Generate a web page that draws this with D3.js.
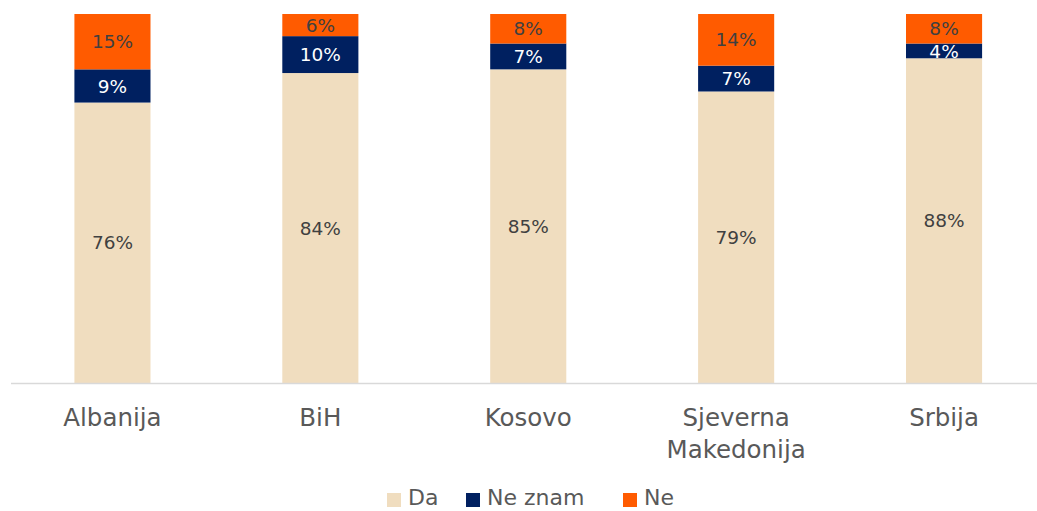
<!DOCTYPE html>
<html>
<head>
<meta charset="utf-8">
<script src="https://cdn.jsdelivr.net/npm/d3@7"></script>
<style>
  body { margin: 0; background: #fff; }
  svg { display: block; font-family: "DejaVu Sans", sans-serif; }
</style>
</head>
<body>
<div id="chart"></div>
<script>
// data
var countries = ["Albanija", "BiH", "Kosovo", "Sjeverna Makedonija", "Srbija"]
var da = [76, 84, 85, 79, 88]
var neZnam = [9, 10, 7, 7, 4]
var ne = [15, 6, 8, 14, 8]
var seriesNames = ["Da", "Ne znam", "Ne"]
var seriesColors = ["#f0ddbf", "#002060", "#ff5b00"]
var labelColors = ["#404040", "#ffffff", "#404040"]

var width = 1037, height = 511

var svg = d3.select("#chart")
  .append("svg")
  .attr("width", width)
  .attr("height", height)

var rows = countries.map((c, i) => ({ country: c, "Da": da[i], "Ne znam": neZnam[i], "Ne": ne[i] }))
var stacked = d3.stack().keys(seriesNames)(rows)

var x = d3.scaleBand()
  .domain(countries)
  .range([8.5, 1048])
  .paddingInner(0.634)
  .paddingOuter(0.317)

var y = d3.scaleLinear()
  .domain([0, 100])
  .range([383, 14])

// bars
var layer = svg.append("g")
  .selectAll("g")
  .data(stacked)
  .enter()
  .append("g")
  .attr("fill", (d, i) => seriesColors[i])

layer.selectAll("rect")
  .data(d => d)
  .enter()
  .append("rect")
  .attr("x", d => x(d.data.country))
  .attr("width", x.bandwidth())
  .attr("y", d => y(d[1]))
  .attr("height", d => y(d[0]) - y(d[1]))

// value labels
stacked.forEach((s, i) => {
  svg.append("g")
    .selectAll("text")
    .data(s)
    .enter()
    .append("text")
    .attr("x", d => x(d.data.country) + x.bandwidth() / 2)
    .attr("y", d => (y(d[0]) + y(d[1])) / 2)
    .attr("dy", "0.36em")
    .attr("text-anchor", "middle")
    .style("font-size", "18.5px")
    .style("fill", labelColors[i])
    .text(d => (d[1] - d[0]) + "%")
})

// x axis line
svg.append("line")
  .attr("x1", 11).attr("x2", 1037)
  .attr("y1", y(0) + 0.5).attr("y2", y(0) + 0.5)
  .attr("stroke", "#d9d9d9")
  .attr("stroke-width", 1.5)

// category labels, wrapping the long one
var catLabels = svg.append("g")
  .selectAll("text")
  .data(countries)
  .enter()
  .append("text")
  .attr("text-anchor", "middle")
  .attr("x", d => x(d) + x.bandwidth() / 2)
  .attr("y", 426)
  .style("font-size", "24.5px")
  .style("fill", "#595959")

catLabels.each(function (d) {
  var words = d.split(" ")
  var t = d3.select(this)
  words.forEach((w, k) => {
    t.append("tspan")
      .attr("x", x(d) + x.bandwidth() / 2)
      .attr("dy", k === 0 ? 0 : 32)
      .text(w)
  })
})

// legend
var legendX = [387, 466, 623]
var legend = svg.append("g")
  .selectAll("g")
  .data(seriesNames)
  .enter()
  .append("g")
  .attr("transform", (d, i) => "translate(" + legendX[i] + ",493)")

legend.append("rect")
  .attr("width", 14)
  .attr("height", 14)
  .attr("fill", (d, i) => seriesColors[i])

legend.append("text")
  .attr("x", 21)
  .attr("y", 12)
  .style("font-size", "22px")
  .style("fill", "#595959")
  .text(d => d)
</script>
</body>
</html>
